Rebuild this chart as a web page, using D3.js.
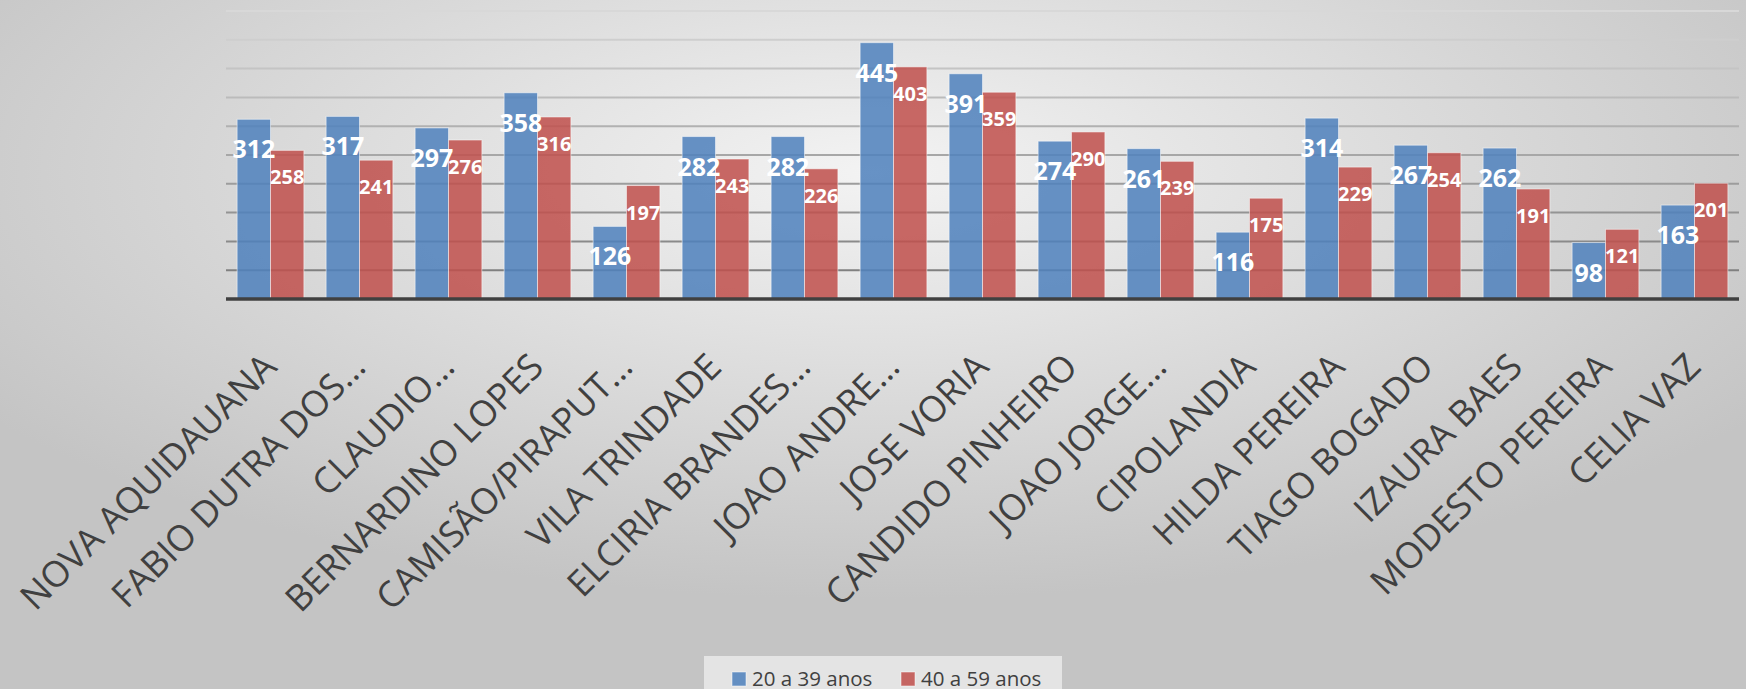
<!DOCTYPE html>
<html><head><meta charset="utf-8">
<script src="https://cdn.jsdelivr.net/npm/d3@7"></script>
<style>body{margin:0;overflow:hidden;background:#ddd} svg{display:block}</style>
</head><body>
<svg id="c" width="1746" height="689"></svg>
<script>
const categories = ["NOVA AQUIDAUANA","FABIO DUTRA DOS…","CLAUDIO…","BERNARDINO LOPES","CAMISÃO/PIRAPUT…","VILA TRINDADE","ELCIRIA BRANDES…","JOAO ANDRE…","JOSE VORIA","CANDIDO PINHEIRO","JOAO JORGE…","CIPOLANDIA","HILDA PEREIRA","TIAGO BOGADO","IZAURA BAES","MODESTO PEREIRA","CELIA VAZ"];
const age20to39 = [312,317,297,358,126,282,282,445,391,274,261,116,314,267,262,98,163];
const age40to59 = [258,241,276,316,197,243,226,403,359,290,239,175,229,254,191,121,201];
const seriesNames = ["20 a 39 anos","40 a 59 anos"];
const yTicks = [0,50,100,150,200,250,300,350,400,450,500];

(function(){
const W = 1746, H = 689;
const svg = d3.select("#c");
const defs = svg.append("defs");
const bg = defs.append("radialGradient").attr("id","bg").attr("cx","50%").attr("cy","25%").attr("r","62%");
bg.append("stop").attr("offset","0%").attr("stop-color","#f3f3f3");
bg.append("stop").attr("offset","100%").attr("stop-color","#c4c4c4");
svg.append("rect").attr("width",W).attr("height",H).attr("fill","url(#bg)");

const pLeft = 226, pRight = 1739, pTop = 11, pBase = 299;
const x = d3.scaleBand().domain(categories).range([pLeft,pRight]).paddingInner(0.25).paddingOuter(0.125);
const xs = d3.scaleBand().domain([0,1]).range([0,x.bandwidth()]);
const y = d3.scaleLinear().domain([0,500]).range([pBase,pTop]);
const gridColor = d3.scaleLinear().domain([500,50]).range(["#d8d8d8","#808080"]);

svg.append("g").selectAll("line").data(yTicks.filter(t=>t>0)).join("line")
  .attr("x1",pLeft).attr("x2",pRight).attr("y1",d=>y(d)).attr("y2",d=>y(d))
  .attr("stroke",d=>gridColor(d)).attr("stroke-width",2);

const colors = ["#4f81bd","#c0504d"];
const data = categories.map((c,i)=>({c, v:[age20to39[i],age40to59[i]]}));
const groups = svg.append("g").selectAll("g").data(data).join("g")
  .attr("transform",d=>`translate(${x(d.c)},0)`);
groups.selectAll("rect").data(d=>d.v.map((v,k)=>({v,k}))).join("rect")
  .attr("x",d=>xs(d.k)).attr("width",xs.bandwidth())
  .attr("y",d=>y(d.v)).attr("height",d=>pBase-y(d.v))
  .attr("fill",d=>colors[d.k]).attr("fill-opacity",0.86)
  .attr("stroke","#ffffff").attr("stroke-opacity",0.5).attr("stroke-width",1);

svg.append("line").attr("x1",pLeft).attr("x2",pRight).attr("y1",pBase).attr("y2",pBase)
  .attr("stroke","#404040").attr("stroke-width",3.5);

groups.selectAll("text.val").data(d=>d.v.map((v,k)=>({v,k}))).join("text")
  .attr("class","val")
  .attr("x",d=>xs(d.k)+xs.bandwidth()/2)
  .attr("y",d=>y(d.v)+(d.k===0?39:34))
  .attr("text-anchor","middle")
  .attr("font-family","'Open Sans', sans-serif").attr("font-weight","bold")
  .attr("font-size",d=>d.k===0?25:20).attr("fill","#ffffff")
  .text(d=>d.v);

svg.append("g").selectAll("text").data(categories).join("text")
  .attr("transform",d=>`translate(${x(d)+x.bandwidth()/2+8},369) rotate(-45)`)
  .attr("text-anchor","end")
  .attr("font-family","'Open Sans', sans-serif").attr("font-size",36).attr("fill","#404040")
  .text(d=>d);

const lg = svg.append("g");
lg.append("rect").attr("x",704).attr("y",656).attr("width",358).attr("height",40).attr("fill","#e4e4e4");
const lx = [732, 901];
seriesNames.forEach((n,k)=>{
  lg.append("rect").attr("x",lx[k]).attr("y",672).attr("width",14).attr("height",14)
    .attr("fill",colors[k]).attr("fill-opacity",0.86).attr("stroke","#ffffff").attr("stroke-opacity",0.5);
  lg.append("text").attr("x",lx[k]+20).attr("y",686)
    .attr("font-family","'Open Sans', sans-serif").attr("font-size",20.5).attr("fill","#404040").text(n);
});
})();
</script>
</body></html>
